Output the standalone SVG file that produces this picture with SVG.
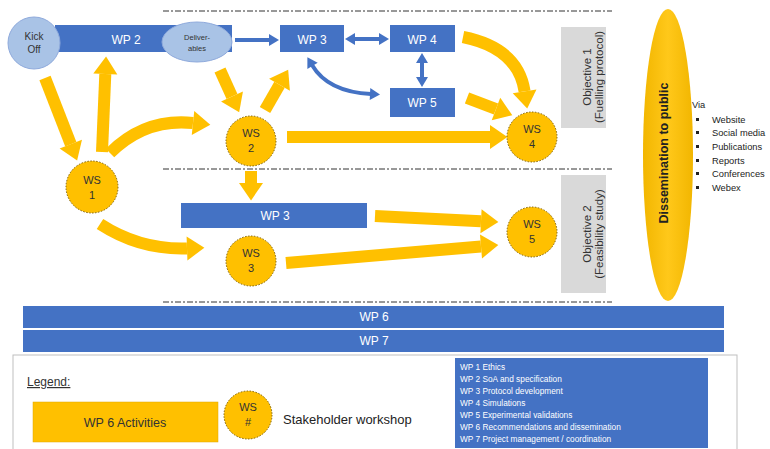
<svg xmlns="http://www.w3.org/2000/svg" width="770" height="449" viewBox="0 0 770 449">
<style>
text{font-family:"Liberation Sans",Arial,sans-serif}
.wp{fill:#4472C4}
.wt{fill:#fff;font-size:12px;text-anchor:middle}
.lb{fill:#A9C3E6;stroke:#8FAADC;stroke-width:1}
.ws{fill:#FFC000;stroke:#7F6000;stroke-width:1;stroke-dasharray:1.5 1.5}
.wst{fill:#333;font-size:11px;text-anchor:middle}
.ya{fill:none;stroke:#FFC000;stroke-width:12;marker-end:url(#yh)}
.ba{fill:none;stroke:#4472C4;stroke-width:4}
.dd{stroke:#333;stroke-width:1;stroke-dasharray:6 2 2 2;fill:none}
.obj{fill:#D9D9D9}
.objt{fill:#333;font-size:11.5px;text-anchor:middle}
.via{fill:#222;font-size:9.3px}
.lst{fill:#fff;font-size:8.3px}
</style>
<defs>
<marker id="yh" markerUnits="strokeWidth" markerWidth="1.45" markerHeight="2" refX="0" refY="1" orient="auto" overflow="visible">
<path d="M0,0 L1.45,1 L0,2 z" fill="#FFC000"/>
</marker>
<marker id="bh" markerUnits="userSpaceOnUse" markerWidth="11" markerHeight="12" refX="1" refY="6" orient="auto-start-reverse" overflow="visible">
<path d="M0,0 L10,6 L0,12 z" fill="#4472C4"/>
</marker>
<linearGradient id="dg" x1="0" x2="1" y1="0" y2="0">
<stop offset="0" stop-color="#F2B600"/>
<stop offset="0.5" stop-color="#FFC81A"/>
<stop offset="1" stop-color="#F2B600"/>
</linearGradient>
</defs>

<g id="dividers">
<line class="dd" x1="163" y1="11" x2="612" y2="11"/>
<line class="dd" x1="163" y1="169" x2="612" y2="169"/>
<line class="dd" x1="163" y1="302" x2="612" y2="302"/>
</g>

<g id="wp2"><rect class="wp" x="55" y="25" width="177" height="27"/><text class="wt" x="126" y="44">WP 2</text></g>
<g id="kickoff"><circle class="lb" cx="34" cy="43" r="26"/><text x="34" y="40" fill="#333" font-size="10" text-anchor="middle">Kick</text><text x="34" y="53" fill="#333" font-size="10" text-anchor="middle">Off</text></g>
<g id="deliverables"><ellipse class="lb" cx="197" cy="42" rx="35" ry="20"/><text x="197" y="40" fill="#333" font-size="7.5" text-anchor="middle">Deliver-</text><text x="197" y="51" fill="#333" font-size="7.5" text-anchor="middle">ables</text></g>
<g id="wp3"><rect class="wp" x="280" y="25" width="64" height="27"/><text class="wt" x="312" y="44">WP 3</text></g>
<g id="wp4"><rect class="wp" x="390" y="25" width="65" height="27"/><text class="wt" x="422" y="44">WP 4</text></g>
<g id="wp5"><rect class="wp" x="390" y="88" width="65" height="29"/><text class="wt" x="422" y="107">WP 5</text></g>
<g id="wp3b"><rect class="wp" x="181" y="203" width="186" height="25"/><text class="wt" x="275" y="220">WP 3</text></g>

<g id="connectors">
<path class="ya" d="M45,78 L70.8,144.2"/>
<path class="ya" d="M102,152 L105.3,74"/>
<path class="ya" d="M110,153 Q145,118 193,123"/>
<path class="ya" d="M220,70 L232,96.5"/>
<path class="ya" d="M265,110 L279.5,84.8"/>
<path class="ya" d="M287,137 L490,137"/>
<path class="ya" d="M251,171 L251,183"/>
<path class="ya" d="M100,224 Q140,250 187,248.4"/>
<path class="ya" d="M375,216 L481,221.2"/>
<path class="ya" d="M286,263 L481,246.5"/>
<path class="ya" d="M463,37 Q518,48 524.6,91.4"/>
<path class="ya" d="M467,98 L496,109"/>
<path class="ba" d="M235,40 L270,40" marker-end="url(#bh)"/>
<path class="ba" d="M354,39 L380,39" marker-start="url(#bh)" marker-end="url(#bh)"/>
<path class="ba" d="M422,62 L422,78" marker-start="url(#bh)" marker-end="url(#bh)"/>
<path class="ba" d="M312,65 Q328,92 371,94" marker-start="url(#bh)" marker-end="url(#bh)"/>
</g>

<g id="ws1"><circle class="ws" cx="92" cy="187" r="26"/><text class="wst" x="92" y="184">WS</text><text class="wst" x="92" y="199">1</text></g>
<g id="ws2"><circle class="ws" cx="251" cy="141" r="25"/><text class="wst" x="251" y="137">WS</text><text class="wst" x="251" y="152">2</text></g>
<g id="ws3"><circle class="ws" cx="251" cy="261" r="25"/><text class="wst" x="251" y="257">WS</text><text class="wst" x="251" y="272">3</text></g>
<g id="ws4"><circle class="ws" cx="532" cy="137" r="25"/><text class="wst" x="532" y="133">WS</text><text class="wst" x="532" y="148">4</text></g>
<g id="ws5"><circle class="ws" cx="532" cy="232" r="25"/><text class="wst" x="532" y="228">WS</text><text class="wst" x="532" y="243">5</text></g>

<g id="objective1"><rect class="obj" x="561" y="27" width="45" height="101"/>
<text class="objt" transform="translate(591,77) rotate(-90)">Objective 1</text>
<text class="objt" transform="translate(603,77) rotate(-90)">(Fuelling protocol)</text></g>
<g id="objective2"><rect class="obj" x="561" y="175" width="45" height="118"/>
<text class="objt" transform="translate(591,234) rotate(-90)">Objective 2</text>
<text class="objt" transform="translate(603,234) rotate(-90)">(Feasibility study)</text></g>

<g id="dissemination"><ellipse cx="668" cy="155" rx="25" ry="146" fill="url(#dg)"/>
<text transform="translate(668,153) rotate(-90)" fill="#222" font-size="12.5" font-weight="bold" text-anchor="middle">Dissemination to public</text></g>

<g id="via">
<text class="via" x="692" y="108">Via</text>
<g fill="#222"><rect x="696" y="118" width="3" height="3"/><rect x="696" y="131" width="3" height="3"/><rect x="696" y="145" width="3" height="3"/><rect x="696" y="159" width="3" height="3"/><rect x="696" y="172" width="3" height="3"/><rect x="696" y="186" width="3" height="3"/></g>
<text class="via" x="712" y="123">Website</text>
<text class="via" x="712" y="136">Social media</text>
<text class="via" x="712" y="150">Publications</text>
<text class="via" x="712" y="164">Reports</text>
<text class="via" x="712" y="177">Conferences</text>
<text class="via" x="712" y="191">Webex</text>
</g>

<g id="wp6"><rect class="wp" x="23" y="306" width="701" height="22"/><text class="wt" x="374" y="321">WP 6</text></g>
<g id="wp7"><rect class="wp" x="23" y="330" width="701" height="22"/><text class="wt" x="374" y="345">WP 7</text></g>

<g id="legend">
<rect x="13" y="355" width="724" height="100" fill="#fff" stroke="#BFBFBF" stroke-width="1"/>
<text x="27" y="386" fill="#333" font-size="12" text-decoration="underline">Legend:</text>
<rect x="33" y="402" width="185" height="40" fill="#FFC000" stroke="#E0A800" stroke-width="0.5"/>
<text x="125" y="427" fill="#333" font-size="12.5" text-anchor="middle">WP 6 Activities</text>
<circle class="ws" cx="248" cy="415" r="24"/>
<text class="wst" x="248" y="411">WS</text><text class="wst" x="248" y="426">#</text>
<text x="283" y="424" fill="#222" font-size="13">Stakeholder workshop</text>
<rect class="wp" x="455" y="358" width="253" height="90"/>
<text class="lst" x="460" y="370">WP 1 Ethics</text>
<text class="lst" x="460" y="382">WP 2 SoA and specification</text>
<text class="lst" x="460" y="394">WP 3 Protocol development</text>
<text class="lst" x="460" y="406">WP 4 Simulations</text>
<text class="lst" x="460" y="418">WP 5 Experimental validations</text>
<text class="lst" x="460" y="430">WP 6 Recommendations and dissemination</text>
<text class="lst" x="460" y="442">WP 7 Project management / coordination</text>
</g>
</svg>
